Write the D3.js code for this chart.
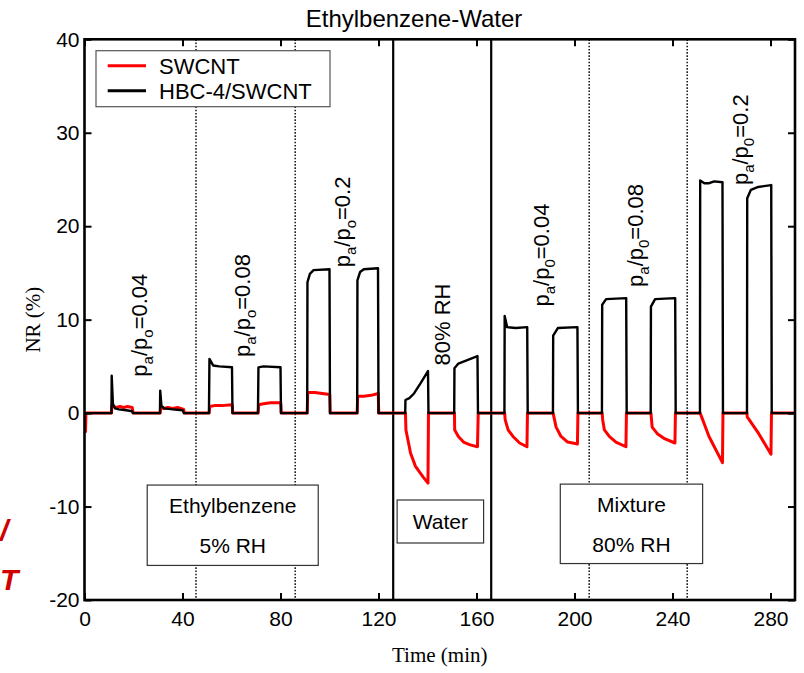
<!DOCTYPE html>
<html>
<head>
<meta charset="utf-8">
<script src="https://cdn.jsdelivr.net/npm/d3@7"></script>
<style>
  html, body { margin: 0; padding: 0; background: #fff; }
  svg { display: block; }
  .sans { font-family: Arial, "Liberation Sans", Helvetica, sans-serif; }
  .serif { font-family: "Times New Roman", "Liberation Serif", Times, serif; }
</style>
</head>
<body>
<svg id="chart" width="804" height="673"></svg>
<script>
// Normalized response (%) vs time (min), [time, NR] pairs
const swcntSeries = [
  [0.4, -2.1], [0.6, 0],
  [11.0, 0], [11.2, 0.8], [12, 0.7], [13, 0.6], [14.5, 0.7], [16, 0.6], [17.5, 0.7], [19.5, 0.6], [19.8, 0],
  [30.9, 0], [31.1, 0.6], [32.5, 0.5], [34, 0.6], [36, 0.5], [38, 0.6], [40.5, 0.4], [40.7, 0],
  [50.9, 0], [51.1, 0.7], [53, 0.8], [56, 0.8], [60.3, 0.9], [60.5, 0],
  [70.9, 0], [71.1, 0.9], [73, 1.0], [76, 1.1], [80.1, 1.1], [80.3, 0],
  [90.9, 0], [91.1, 2.2], [94, 2.2], [97, 2.1], [100.1, 2.0], [100.3, 0],
  [111.3, 0], [111.5, 1.8], [114, 1.8], [117, 1.9], [119.9, 2.1], [120.1, 0],
  [131.0, 0], [131.2, -1.8], [133.1, -4.3], [135.1, -5.7], [138.1, -6.8], [140.2, -7.5], [140.4, 0],
  [151.0, 0], [151.1, -1.8], [152.6, -2.5], [154.7, -3.1], [157.4, -3.4], [160.4, -3.6], [160.7, 0],
  [171.5, 0], [171.7, -0.7], [172.9, -1.8], [174.9, -2.5], [177.6, -3.2], [180.6, -3.6], [180.8, 0],
  [191.3, 0], [191.5, -0.3], [192.5, -1.5], [194.5, -2.5], [197.2, -3.1], [201.2, -3.3], [201.4, 0],
  [211.3, 0], [211.5, -0.7], [212.2, -1.8], [214.2, -2.5], [216.9, -3.1], [221.0, -3.6], [221.2, 0],
  [231.2, 0], [231.7, -1.5], [233.8, -2.2], [236.5, -2.7], [241.0, -3.2], [241.2, 0],
  [251.3, 0], [254.9, -2.5], [260.4, -5.3], [260.6, 0],
  [270.4, 0], [270.5, -0.4], [275.2, -2.2], [280.2, -4.4], [280.4, 0],
  [290, 0]
];

const hbcSeries = [
  [0, 0],
  [11.0, 0], [11.1, 4.0], [11.6, 1.0], [12.5, 0.5], [14, 0.4], [17, 0.3], [19.5, 0.2], [19.8, 0],
  [30.8, 0], [30.9, 2.4], [31.4, 0.8], [32.5, 0.5], [36, 0.4], [40, 0.3], [40.6, 0],
  [50.8, 0], [51.0, 5.8], [52.5, 5.1], [55, 5.0], [60.2, 4.9], [60.4, 0],
  [70.8, 0], [71.0, 4.9], [73, 5.0], [80.0, 4.9], [80.2, 0],
  [90.9, 0], [91.0, 14.0], [92, 14.9], [93.5, 15.3], [100, 15.4], [100.2, 0],
  [111.3, 0], [111.4, 14.2], [112.5, 15.1], [114, 15.4], [119.8, 15.5], [120, 0],
  [130.9, 0], [131.0, 1.4], [132.6, 1.6], [134.5, 2.1], [137.2, 3.2], [140.2, 4.5], [140.4, 0],
  [150.9, 0], [151.0, 4.8], [152.6, 5.3], [160.4, 6.1], [160.6, 0],
  [171.4, 0], [171.5, 10.4], [172.5, 9.2], [176, 9.1], [180.7, 9.2], [180.9, 0],
  [191.2, 0], [191.3, 8.3], [193.2, 9.1], [201.2, 9.2], [201.4, 0],
  [211.2, 0], [211.3, 11.6], [212.9, 12.2], [221.1, 12.3], [221.3, 0],
  [231.1, 0], [231.2, 11.4], [232.9, 12.2], [241.1, 12.3], [241.3, 0],
  [251.2, 0], [251.3, 24.9], [253, 24.6], [255, 24.6], [257, 24.8], [260.4, 24.7], [260.6, 0],
  [270.4, 0], [270.5, 23.0], [272, 23.9], [275, 24.2], [280.3, 24.4], [280.5, 0],
  [290, 0]
];

const timeTicks = [0, 40, 80, 120, 160, 200, 240, 280];
const nrTicks = [-20, -10, 0, 10, 20, 30, 40];

// Stage boundaries (min)
const stageBreaks = [126, 166];
const doseBreaks = [45.5, 86, 206, 246];

// Vapour-pressure annotations: subscript char, value, time anchor, NR at label start
const doseLabels = [
  { sub0: "o", value: "0.04", t: 25.6, nr: 3.9 },
  { sub0: "o", value: "0.08", t: 67.5, nr: 6.0 },
  { sub0: "o", value: "0.2",  t: 108.2, nr: 15.6 },
  { sub0: "0", value: "0.04", t: 189.7, nr: 11.4 },
  { sub0: "0", value: "0.08", t: 228.0, nr: 13.5 },
  { sub0: "0", value: "0.2",  t: 270.9, nr: 24.4 }
];
const waterLabel = { text: "80% RH", t: 149.3, nr: 5.1 };

// Condition boxes: time span, NR span, lines of text
const conditionBoxes = [
  { t0: 25.6, t1: 95.4, top: -7.7, bottom: -16.3, lines: ["Ethylbenzene", "5% RH"] },
  { t0: 127.6, t1: 162.9, top: -9.3, bottom: -13.9, lines: ["Water"] },
  { t0: 194.2, t1: 252.3, top: -7.6, bottom: -16.1, lines: ["Mixture", "80% RH"] }
];

const seriesNames = ["SWCNT", "HBC-4/SWCNT"];
const seriesColors = ["#ff0000", "#000000"];

const svg = d3.select("#chart");
const plotL = 84.5, plotR = 795, plotT = 39.3, plotB = 600;

const x = d3.scaleLinear().domain([0, 290]).range([plotL, plotR]);
const y = d3.scaleLinear().domain([-20, 40]).range([plotB, plotT]);

// clip for data lines
svg.append("clipPath").attr("id", "plotClip")
  .append("rect").attr("x", plotL).attr("y", plotT)
  .attr("width", plotR - plotL).attr("height", plotB - plotT);

// dotted dose separators
svg.append("g").selectAll("line").data(doseBreaks).join("line")
  .attr("x1", d => x(d)).attr("x2", d => x(d))
  .attr("y1", plotT).attr("y2", plotB)
  .attr("stroke", "#222").attr("stroke-width", 1.6)
  .attr("stroke-dasharray", "1.6,1.6");

// solid stage separators
svg.append("g").selectAll("line").data(stageBreaks).join("line")
  .attr("x1", d => x(d)).attr("x2", d => x(d))
  .attr("y1", plotT).attr("y2", plotB)
  .attr("stroke", "#000").attr("stroke-width", 2.2);

// condition boxes
const boxG = svg.append("g").attr("class", "sans");
conditionBoxes.forEach(b => {
  const x0 = x(b.t0), x1 = x(b.t1), y0 = y(b.top), y1 = y(b.bottom);
  boxG.append("rect").attr("x", x0).attr("y", y0)
    .attr("width", x1 - x0).attr("height", y1 - y0)
    .attr("fill", "#fff").attr("stroke", "#333").attr("stroke-width", 1.2);
  const cx = (x0 + x1) / 2;
  if (b.lines.length === 2) {
    boxG.append("text").attr("x", cx).attr("y", y0 + 28).attr("text-anchor", "middle")
      .attr("font-size", 21).text(b.lines[0]);
    boxG.append("text").attr("x", cx).attr("y", y1 - 12).attr("text-anchor", "middle")
      .attr("font-size", 21).text(b.lines[1]);
  } else {
    boxG.append("text").attr("x", cx).attr("y", (y0 + y1) / 2 + 7).attr("text-anchor", "middle")
      .attr("font-size", 21).text(b.lines[0]);
  }
});

// data lines
const line = d3.line().x(d => x(d[0])).y(d => y(d[1]));
const lines = svg.append("g").attr("clip-path", "url(#plotClip)");
lines.append("path").datum(swcntSeries).attr("d", line)
  .attr("fill", "none").attr("stroke", seriesColors[0]).attr("stroke-width", 3)
  .attr("stroke-linejoin", "round");
lines.append("path").datum(hbcSeries).attr("d", line)
  .attr("fill", "none").attr("stroke", seriesColors[1]).attr("stroke-width", 2.4)
  .attr("stroke-linejoin", "round");

// rotated vapour-pressure labels
const labG = svg.append("g").attr("class", "sans");
doseLabels.forEach(d => {
  const t = labG.append("text")
    .attr("transform", `translate(${x(d.t)},${y(d.nr)}) rotate(-90)`)
    .attr("font-size", 22);
  t.append("tspan").text("p");
  t.append("tspan").attr("dy", 6).attr("font-size", 15).text("a");
  t.append("tspan").attr("dy", -6).text("/p");
  t.append("tspan").attr("dy", 6).attr("font-size", 15).text(d.sub0);
  t.append("tspan").attr("dy", -6).text("=" + d.value);
});
labG.append("text")
  .attr("transform", `translate(${x(waterLabel.t)},${y(waterLabel.nr)}) rotate(-90)`)
  .attr("font-size", 22).text(waterLabel.text);

// axes with inward ticks
const axG = svg.append("g").attr("class", "sans");
const plainNum = d => String(d);
const bottomAxis = d3.axisBottom(x).tickValues(timeTicks).tickSize(-7).tickPadding(11).tickFormat(plainNum);
const topAxis = d3.axisTop(x).tickValues(timeTicks).tickSize(-7).tickFormat("");
const leftAxis = d3.axisLeft(y).tickValues(nrTicks).tickSize(-7).tickPadding(5).tickFormat(plainNum);
const rightAxis = d3.axisRight(y).tickValues(nrTicks).tickSize(-7).tickFormat("");

function styleAxis(g) {
  g.select(".domain").remove();
  g.selectAll(".tick line").attr("stroke", "#000").attr("stroke-width", 2);
  g.selectAll(".tick text").attr("font-size", 21).attr("fill", "#000")
    .attr("font-family", "Arial, 'Liberation Sans', sans-serif");
}
axG.append("g").attr("transform", `translate(0,${plotB})`).call(bottomAxis).call(styleAxis);
axG.append("g").attr("transform", `translate(0,${plotT})`).call(topAxis).call(styleAxis);
axG.append("g").attr("transform", `translate(${plotL},0)`).call(leftAxis).call(styleAxis);
axG.append("g").attr("transform", `translate(${plotR},0)`).call(rightAxis).call(styleAxis);

// frame
svg.append("rect").attr("x", plotL).attr("y", plotT)
  .attr("width", plotR - plotL).attr("height", plotB - plotT)
  .attr("fill", "none").attr("stroke", "#000").attr("stroke-width", 2.6);

// legend
const leg = svg.append("g").attr("class", "sans");
leg.append("rect").attr("x", 96).attr("y", 50.7).attr("width", 234).attr("height", 56)
  .attr("fill", "#fff").attr("stroke", "#555").attr("stroke-width", 1.2);
seriesNames.forEach((name, i) => {
  const ly = 65.7 + i * 25;
  leg.append("line").attr("x1", 107.7).attr("x2", 146).attr("y1", ly).attr("y2", ly)
    .attr("stroke", seriesColors[i]).attr("stroke-width", 3);
  leg.append("text").attr("x", 159).attr("y", ly + 8).attr("font-size", 22).text(name);
});

// title and axis titles
svg.append("text").attr("class", "sans").attr("x", 414).attr("y", 26.5)
  .attr("text-anchor", "middle").attr("font-size", 24).text("Ethylbenzene-Water");
svg.append("text").attr("class", "serif").attr("x", (plotL + plotR) / 2).attr("y", 662)
  .attr("text-anchor", "middle").attr("font-size", 21).text("Time (min)");
svg.append("text").attr("class", "serif")
  .attr("transform", `translate(40,${(plotT + plotB) / 2}) rotate(-90)`)
  .attr("text-anchor", "middle").attr("font-size", 21).text("NR (%)");

// red margin glyphs at the left edge
const side = svg.append("g").attr("class", "sans")
  .attr("fill", "#d00000").attr("font-weight", "bold").attr("font-style", "italic")
  .attr("font-size", 30);
side.append("text").attr("x", 0).attr("y", 541).text("/");
side.append("text").attr("x", 0).attr("y", 590).text("T");
</script>
</body>
</html>
